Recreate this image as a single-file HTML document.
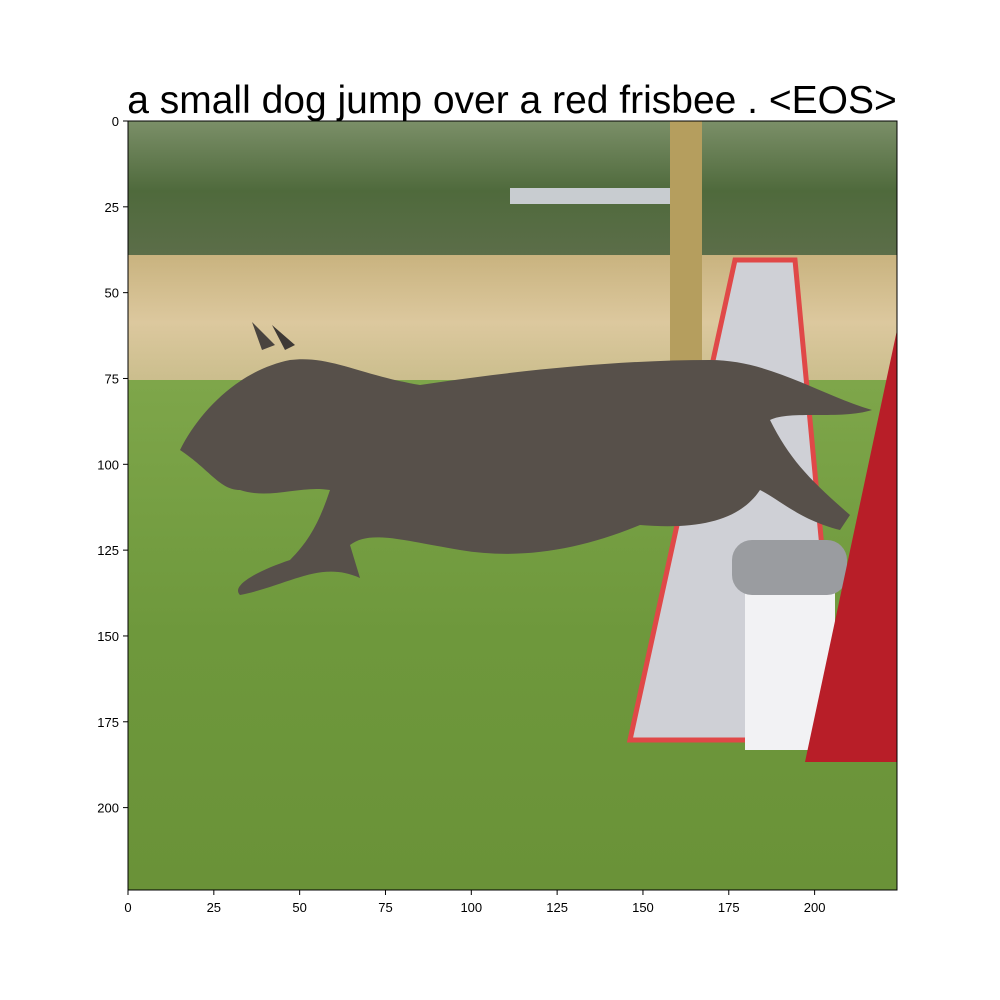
<!DOCTYPE html>
<html><head><meta charset="utf-8"><style>
html,body{margin:0;padding:0;background:#fff;}
svg{display:block;font-family:"Liberation Sans","DejaVu Sans",sans-serif;}
</style></head><body>
<svg id="fig" width="1000" height="1000" viewBox="0 0 1000 1000">
<defs>
<linearGradient id="trees" x1="0" y1="0" x2="0" y2="1">
<stop offset="0" stop-color="#7b8f68"/><stop offset="0.5" stop-color="#4f6a3c"/><stop offset="1" stop-color="#5d6e4a"/></linearGradient>
<linearGradient id="wheat" x1="0" y1="0" x2="0" y2="1">
<stop offset="0" stop-color="#c9b37f"/><stop offset="0.5" stop-color="#dcc89e"/><stop offset="1" stop-color="#c8bc8a"/></linearGradient>
<linearGradient id="grass" x1="0" y1="0" x2="0" y2="1">
<stop offset="0" stop-color="#7ea64a"/><stop offset="0.5" stop-color="#6e983c"/><stop offset="1" stop-color="#6a9238"/></linearGradient>
<clipPath id="clip"><rect x="128" y="121" width="769" height="769"/></clipPath>
</defs>
<text x="512" y="113" font-size="39" text-anchor="middle" fill="#000">a small dog jump over a red frisbee . &lt;EOS&gt;</text>
<g clip-path="url(#clip)">
<rect x="128" y="121" width="769" height="140" fill="url(#trees)"/>
<rect x="510" y="188" width="165" height="16" fill="#c8ccd0"/>
<rect x="128" y="255" width="769" height="135" fill="url(#wheat)"/>
<rect x="128" y="380" width="769" height="510" fill="url(#grass)"/>
<rect x="670" y="121" width="32" height="240" fill="#b59e5e"/>
<polygon points="735,260 795,260 840,740 630,740" fill="#cfd0d6" stroke="#e04848" stroke-width="5"/>
<rect x="745" y="590" width="90" height="160" fill="#f2f2f4"/>
<rect x="732" y="540" width="115" height="55" rx="20" fill="#9a9ca0"/>
<polygon points="897,330 897,762 805,762" fill="#b81e28"/>
<path d="M180,450 C200,410 240,370 290,360 C330,355 360,375 420,385 C520,370 620,360 710,360 C770,360 820,395 872,410 C840,420 790,410 770,420 C790,460 810,480 850,515 L840,530 C800,520 780,500 760,490 C740,520 700,530 640,525 C580,550 520,560 460,550 C400,540 370,530 350,545 L360,578 C320,560 290,585 240,595 C230,585 260,570 290,560 C310,540 320,520 330,490 C300,485 270,500 240,490 C220,490 210,470 180,450 Z" fill="#57504a"/>
<polygon points="252,322 262,350 275,345" fill="#4a443f"/>
<polygon points="272,325 285,350 295,345" fill="#3e3935"/>
</g>
<rect x="128" y="121" width="769" height="769" fill="none" stroke="#000" stroke-width="1"/>
<g id="xaxis"></g>
<g id="yaxis"></g>
</svg>
<script>
const xTicks = [0, 25, 50, 75, 100, 125, 150, 175, 200];
const yTicks = [0, 25, 50, 75, 100, 125, 150, 175, 200];
const imgSize = 224;
const NS = "http://www.w3.org/2000/svg";
function xScale(u){ return 128 + u * 769 / imgSize; }
function yScale(u){ return 121 + u * 769 / imgSize; }
const xg = document.getElementById('xaxis');
xTicks.forEach(function(t){
  const x = xScale(t);
  const l = document.createElementNS(NS,'line');
  l.setAttribute('x1',x);l.setAttribute('x2',x);l.setAttribute('y1',890);l.setAttribute('y2',895);
  l.setAttribute('stroke','#000');
  
  
  xg.appendChild(l);
  const tx = document.createElementNS(NS,'text');
  tx.setAttribute('x',x);tx.setAttribute('y',912);tx.setAttribute('font-size','13');tx.setAttribute('text-anchor','middle');
  tx.textContent = t;
  
  
  xg.appendChild(tx);
});
const yg = document.getElementById('yaxis');
yTicks.forEach(function(t){
  const y = yScale(t);
  const l = document.createElementNS(NS,'line');
  l.setAttribute('x1',123);l.setAttribute('x2',128);l.setAttribute('y1',y);l.setAttribute('y2',y);
  l.setAttribute('stroke','#000');
  
  
  yg.appendChild(l);
  const tx = document.createElementNS(NS,'text');
  tx.setAttribute('x',119);tx.setAttribute('y',y+5);tx.setAttribute('font-size','13');tx.setAttribute('text-anchor','end');
  tx.textContent = t;
  
  
  yg.appendChild(tx);
});
</script>
</body></html>
